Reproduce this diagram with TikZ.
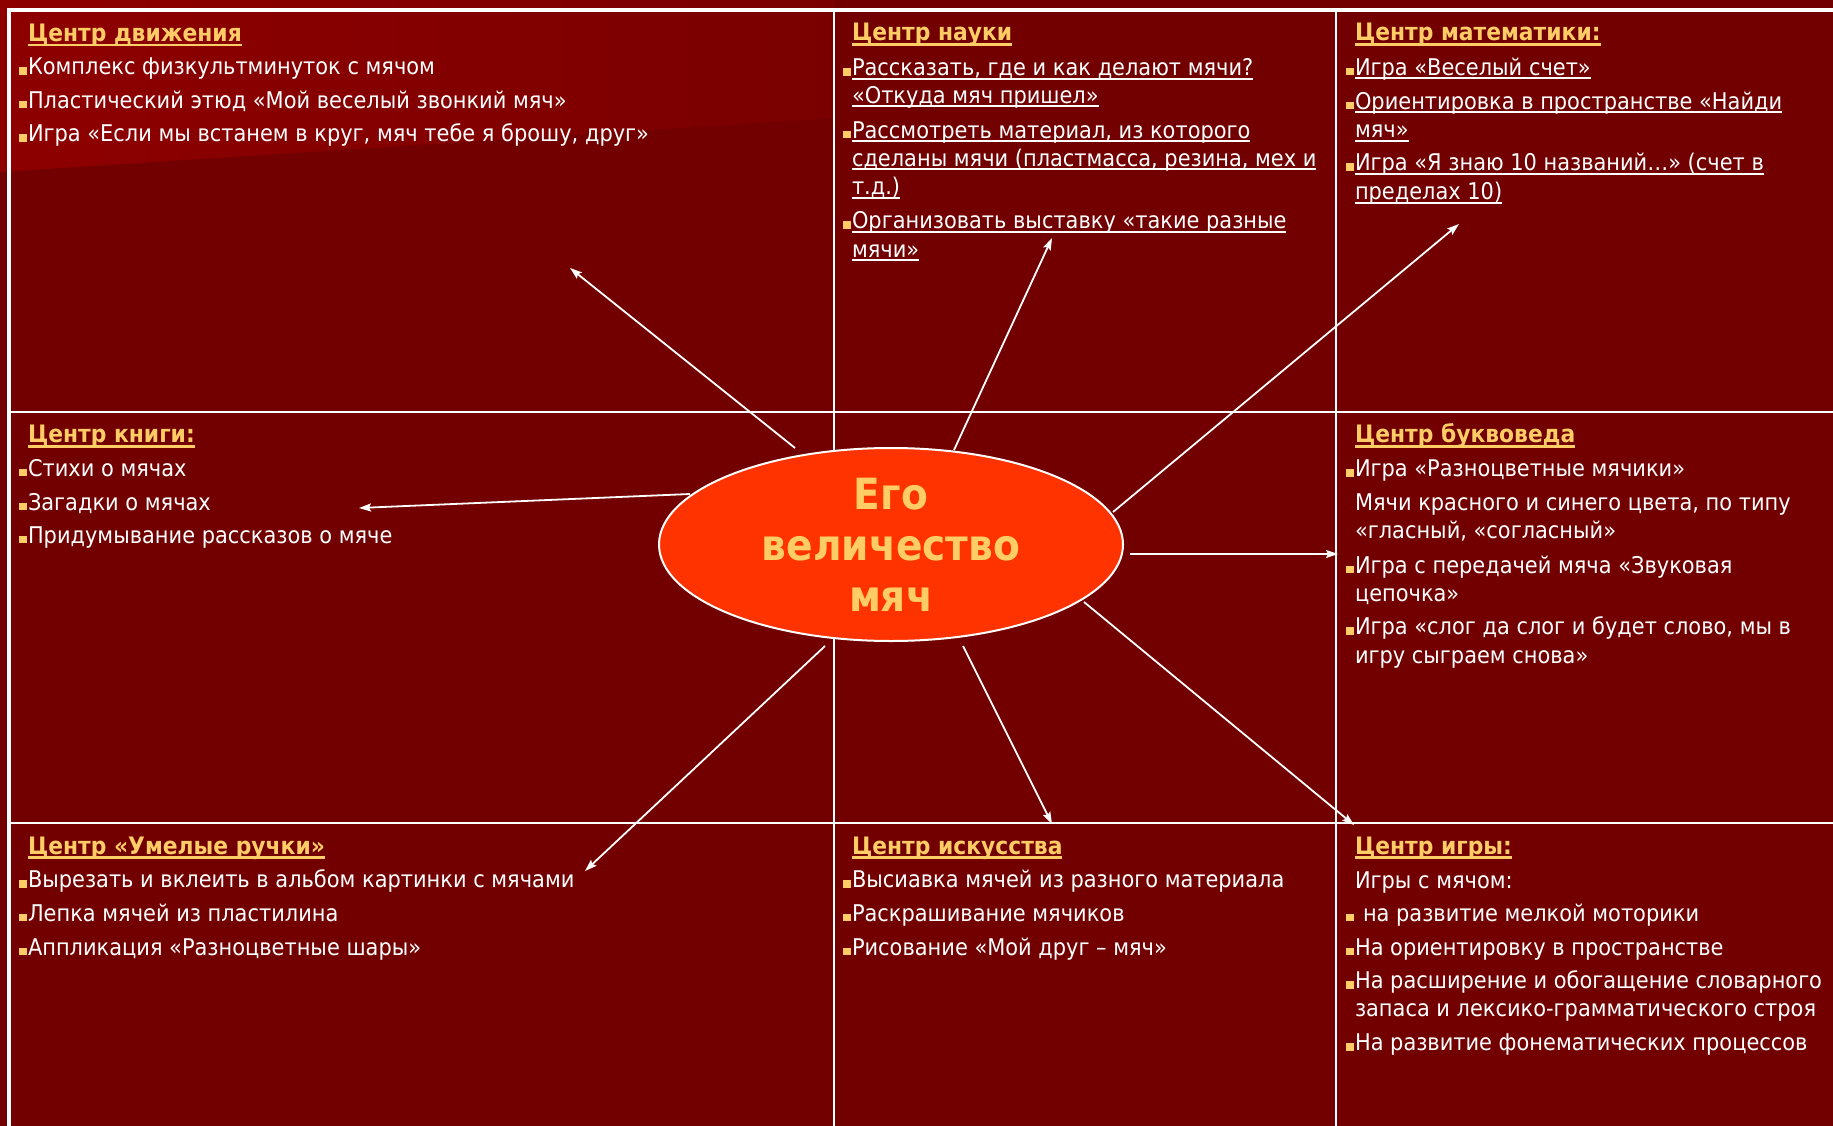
\documentclass[tikz,border=0pt]{standalone}
\usepackage{fontspec}
\setmainfont{DejaVu Sans}[FakeStretch=0.91]
\usetikzlibrary{arrows.meta,shapes.geometric}
\definecolor{bg}{HTML}{720000}
\definecolor{bglight}{HTML}{8E0000}
\definecolor{bgmid}{HTML}{7A0000}
\definecolor{hdcol}{HTML}{FFCC66}
\definecolor{ballfill}{HTML}{FF3300}
\newcommand\bul{\llap{\textcolor{hdcol}{\rule{7.5pt}{7.5pt}}\hspace{1.5pt}}}
\newcommand\ulx[1]{\setbox0\hbox{#1}\rlap{\rule[-4pt]{\wd0}{2pt}}\box0}
\newcommand\ulh[1]{\setbox0\hbox{#1}\rlap{\rule[-5pt]{\wd0}{2.7pt}}\box0}
\tikzset{
  txt/.style={anchor=base west, inner sep=0pt, outer sep=0pt, text=white, font=\fontsize{23}{28}\selectfont},
  hd/.style={txt, text=hdcol, font=\fontsize{24}{28}\selectfont\bfseries},
  gridline/.style={draw=white, line width=2.5pt},
  border/.style={draw=white, line width=4pt},
  arr/.style={draw=white, line width=1.8pt, -{Stealth[length=12pt,width=8pt,inset=2pt]}},
  ball/.style={ellipse, fill=ballfill, draw=white, line width=2pt, minimum width=464pt, minimum height=193pt, inner sep=0pt, text=hdcol, font=\fontsize{43}{51}\selectfont\bfseries, align=center}
}
\begin{document}
\begin{tikzpicture}[x=1pt,y=-1pt]
\useasboundingbox (0,0) rectangle (1833,1126);
\fill[bg] (0,0) rectangle (1833,1126);
\shade[left color=bglight, right color=bgmid] (0,0) -- (835,0) -- (835,118) -- (0,172) -- cycle;
% grid
\draw[border] (7,10) -- (1833,10);
\draw[border] (9,8) -- (9,1126);
\draw[gridline] (834,10) -- (834,1126);
\draw[gridline] (1336,10) -- (1336,1126);
\draw[gridline] (9,412) -- (1833,412);
\draw[gridline] (9,823) -- (1833,823);
% ball
\node[ball] (ball) at (891,544.5) {Его\\величество\\мяч};
% cell 1
\node[hd] (c1h) at (28,41.5) {\ulh{Центр движения}};
\node[txt] (c1a) at (28,75) {\bul Комплекс физкультминуток с мячом};
\node[txt] (c1b) at (28,108.3) {\bul Пластический этюд «Мой веселый звонкий мяч»};
\node[txt] (c1c) at (28,141.6) {\bul Игра «Если мы встанем в круг, мяч тебе я брошу, друг»};
% cell 2
\node[hd] (c2h) at (852,41) {\ulh{Центр науки}};
\node[txt] (c2a) at (852,76) {\bul\ulx{Рассказать, где и как делают мячи?}};
\node[txt] (c2b) at (852,103.5) {\ulx{«Откуда мяч пришел»}};
\node[txt] (c2c) at (852,138.5) {\bul\ulx{Рассмотреть материал, из которого}};
\node[txt] (c2d) at (852,166.5) {\ulx{сделаны мячи (пластмасса, резина, мех и}};
\node[txt] (c2e) at (852,194.7) {\ulx{т.д.)}};
\node[txt] (c2f) at (852,229) {\bul\ulx{Организовать выставку «такие разные}};
\node[txt] (c2g) at (852,257) {\ulx{мячи»}};
% cell 3
\node[hd] (c3h) at (1355,41) {\ulh{Центр математики:}};
\node[txt] (c3a) at (1355,75.5) {\bul\ulx{Игра «Веселый счет»}};
\node[txt] (c3b) at (1355,109.5) {\bul\ulx{Ориентировка в пространстве «Найди}};
\node[txt] (c3c) at (1355,137.7) {\ulx{мяч»}};
\node[txt] (c3d) at (1355,171) {\bul\ulx{Игра «Я знаю 10 названий…» (счет в}};
\node[txt] (c3e) at (1355,199.7) {\ulx{пределах 10)}};
% cell 4
\node[hd] (c4h) at (28,442.5) {\ulh{Центр книги:}};
\node[txt] (c4a) at (28,476) {\bul Стихи о мячах};
\node[txt] (c4b) at (28,510) {\bul Загадки о мячах};
\node[txt] (c4c) at (28,543) {\bul Придумывание рассказов о мяче};
% cell 5
\node[hd] (c5h) at (1355,442.5) {\ulh{Центр буквоведа}};
\node[txt] (c5a) at (1355,476.7) {\bul Игра «Разноцветные мячики»};
\node[txt] (c5b) at (1355,510.6) {Мячи красного и синего цвета, по типу};
\node[txt] (c5c) at (1355,538) {«гласный, «согласный»};
\node[txt] (c5d) at (1355,573) {\bul Игра с передачей мяча «Звуковая};
\node[txt] (c5e) at (1355,601) {цепочка»};
\node[txt] (c5f) at (1355,634.7) {\bul Игра «слог да слог и будет слово, мы в};
\node[txt] (c5g) at (1355,663) {игру сыграем снова»};
% cell 6
\node[hd] (c6h) at (28,854) {\ulh{Центр «Умелые ручки»}};
\node[txt] (c6a) at (28,887.7) {\bul Вырезать и вклеить в альбом картинки с мячами};
\node[txt] (c6b) at (28,921) {\bul Лепка мячей из пластилина};
\node[txt] (c6c) at (28,955) {\bul Аппликация «Разноцветные шары»};
% cell 7
\node[hd] (c7h) at (852,854) {\ulh{Центр искусства}};
\node[txt] (c7a) at (852,887.7) {\bul Высиавка мячей из разного материала};
\node[txt] (c7b) at (852,921) {\bul Раскрашивание мячиков};
\node[txt] (c7c) at (852,955) {\bul Рисование «Мой друг – мяч»};
% cell 8
\node[hd] (c8h) at (1355,854) {\ulh{Центр игры:}};
\node[txt] (c8a) at (1355,888) {Игры с мячом:};
\node[txt] (c8b) at (1355,921) {\bul\hspace{8pt}на развитие мелкой моторики};
\node[txt] (c8c) at (1355,955) {\bul На ориентировку в пространстве};
\node[txt] (c8d) at (1355,988.5) {\bul На расширение и обогащение словарного};
\node[txt] (c8e) at (1355,1016.7) {запаса и лексико-грамматического строя};
\node[txt] (c8f) at (1355,1050.5) {\bul На развитие фонематических процессов};
% arrow coordinates
\coordinate (t1) at (795,448); \coordinate (h1) at (570,268);
\coordinate (t2) at (954,450); \coordinate (h2) at (1052,238);
\coordinate (t3) at (1113,512); \coordinate (h3) at (1459,224);
\coordinate (t4) at (690,494); \coordinate (h4) at (359,508);
\coordinate (t5) at (1130,554); \coordinate (h5) at (1338,554);
\coordinate (t6) at (1084,602); \coordinate (h6) at (1354,825);
\coordinate (t7) at (963,646); \coordinate (h7) at (1052,824);
\coordinate (t8) at (825,646); \coordinate (h8) at (585,871);
\foreach \i in {1,...,8} { \draw[arr] (t\i) -- (h\i); }
\end{tikzpicture}
\end{document}
